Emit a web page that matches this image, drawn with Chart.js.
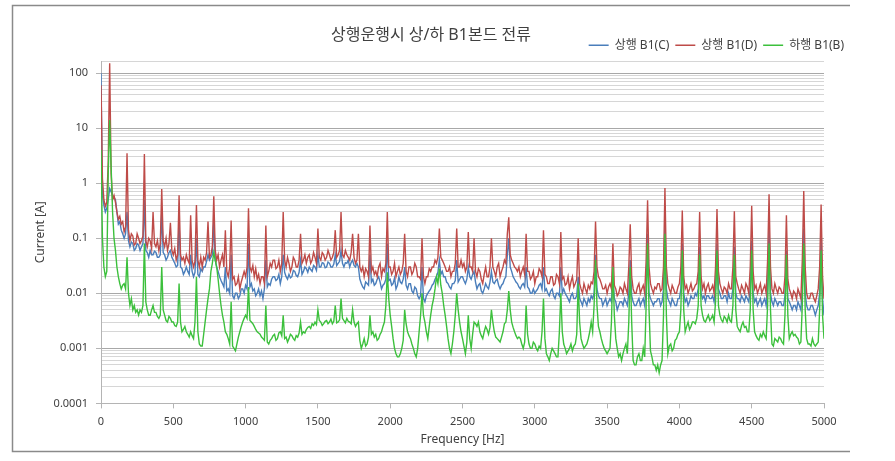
<!DOCTYPE html>
<html>
<head>
<meta charset="utf-8">
<script src="https://cdn.jsdelivr.net/npm/chart.js@4.4.1/dist/chart.umd.min.js"></script>
<style>
  html, body { margin: 0; padding: 0; background: #fff; }
</style>
</head>
<body>
<canvas id="bondCurrentChart" width="895" height="461"></canvas>
<script>
// frequency grid, 10 Hz per step (0 .. 5000 Hz)
const freqs = Array.from({ length: 501 }, (_, i) => i * 10);

const seriesNames = ['상행 B1(C)', '상행 B1(D)', '하행 B1(B)'];

// 상행 B1(C) - blue, one row per 100 Hz
const currentC = [
  100, 0.6, 0.4, 0.3, 0.35, 0.5, 0.8, 0.7, 0.6, 0.55,
  0.5, 0.3, 0.18, 0.2, 0.14, 0.12, 0.1, 0.12, 0.3, 0.09,
  0.07, 0.085, 0.08, 0.06, 0.065, 0.08, 0.075, 0.06, 0.07, 0.08,
  0.5, 0.06, 0.055, 0.045, 0.06, 0.05, 0.05, 0.058, 0.055, 0.045,
  0.045, 0.05, 0.3, 0.055, 0.05, 0.04, 0.045, 0.055, 0.06, 0.045,
  0.04, 0.035, 0.03, 0.032, 0.2, 0.03, 0.028, 0.022, 0.025, 0.03,
  0.025, 0.022, 0.05, 0.025, 0.02, 0.024, 0.1, 0.022, 0.02, 0.028,
  0.025, 0.03, 0.03, 0.038, 0.05, 0.04, 0.045, 0.05, 0.2, 0.04,
  0.03, 0.025, 0.02, 0.017, 0.015, 0.013, 0.03, 0.011, 0.012, 0.01,
  0.05, 0.009, 0.008, 0.01, 0.01, 0.008, 0.009, 0.012, 0.012, 0.01,
  0.014, 0.012, 0.08, 0.013, 0.015, 0.011, 0.012, 0.009, 0.01, 0.012,
  0.009, 0.011, 0.008, 0.012, 0.04, 0.013, 0.015, 0.014, 0.018, 0.02,
  0.02, 0.017, 0.018, 0.022, 0.015, 0.02, 0.05, 0.024, 0.02, 0.018,
  0.022, 0.019, 0.02, 0.026, 0.025, 0.021, 0.02, 0.024, 0.04, 0.022,
  0.025, 0.03, 0.028, 0.024, 0.03, 0.027, 0.025, 0.032, 0.03, 0.026,
  0.05, 0.03, 0.03, 0.036, 0.035, 0.029, 0.03, 0.037, 0.035, 0.03,
  0.03, 0.034, 0.05, 0.032, 0.035, 0.038, 0.06, 0.035, 0.03, 0.036,
  0.035, 0.04, 0.03, 0.036, 0.04, 0.032, 0.03, 0.035, 0.03, 0.018,
  0.015, 0.013, 0.012, 0.016, 0.015, 0.014, 0.05, 0.016, 0.018, 0.014,
  0.015, 0.018, 0.02, 0.016, 0.012, 0.014, 0.015, 0.018, 0.08, 0.017,
  0.018, 0.014, 0.015, 0.019, 0.012, 0.014, 0.02, 0.016, 0.015, 0.018,
  0.03, 0.014, 0.012, 0.015, 0.015, 0.011, 0.01, 0.013, 0.012, 0.009,
  0.008, 0.009, 0.03, 0.008, 0.007, 0.009, 0.01, 0.011, 0.012, 0.014,
  0.015, 0.018, 0.02, 0.024, 0.04, 0.022, 0.025, 0.02, 0.02, 0.016,
  0.015, 0.013, 0.012, 0.015, 0.015, 0.017, 0.04, 0.016, 0.018, 0.02,
  0.02, 0.017, 0.015, 0.018, 0.03, 0.02, 0.018, 0.022, 0.025, 0.016,
  0.012, 0.014, 0.015, 0.011, 0.01, 0.012, 0.015, 0.013, 0.012, 0.016,
  0.025, 0.016, 0.015, 0.017, 0.018, 0.014, 0.012, 0.014, 0.015, 0.018,
  0.02, 0.05, 0.1, 0.03, 0.025, 0.02, 0.018, 0.016, 0.015, 0.013,
  0.012, 0.014, 0.015, 0.013, 0.03, 0.013, 0.012, 0.01, 0.01, 0.012,
  0.01, 0.011, 0.012, 0.014, 0.015, 0.012, 0.03, 0.011, 0.012, 0.01,
  0.009, 0.011, 0.012, 0.009, 0.008, 0.01, 0.01, 0.009, 0.03, 0.01,
  0.012, 0.01, 0.009, 0.008, 0.007, 0.009, 0.01, 0.008, 0.008, 0.009,
  0.02, 0.008, 0.007, 0.006, 0.008, 0.007, 0.006, 0.008, 0.007, 0.009,
  0.008, 0.01, 0.05, 0.012, 0.009, 0.008, 0.008, 0.006, 0.007, 0.008,
  0.006, 0.007, 0.008, 0.007, 0.02, 0.008, 0.007, 0.005, 0.006, 0.007,
  0.007, 0.006, 0.008, 0.007, 0.006, 0.01, 0.04, 0.009, 0.007, 0.006,
  0.006, 0.007, 0.008, 0.006, 0.007, 0.008, 0.006, 0.012, 0.12, 0.01,
  0.008, 0.007, 0.006, 0.007, 0.007, 0.008, 0.008, 0.006, 0.007, 0.012,
  0.2, 0.012, 0.008, 0.007, 0.006, 0.008, 0.007, 0.006, 0.006, 0.008,
  0.008, 0.012, 0.08, 0.01, 0.007, 0.008, 0.006, 0.007, 0.009, 0.008,
  0.008, 0.01, 0.009, 0.012, 0.07, 0.01, 0.008, 0.009, 0.007, 0.009,
  0.009, 0.008, 0.008, 0.009, 0.007, 0.012, 0.08, 0.012, 0.01, 0.008,
  0.008, 0.009, 0.009, 0.007, 0.01, 0.008, 0.008, 0.012, 0.07, 0.01,
  0.008, 0.008, 0.007, 0.009, 0.008, 0.007, 0.009, 0.008, 0.007, 0.012,
  0.09, 0.01, 0.007, 0.008, 0.006, 0.007, 0.008, 0.006, 0.007, 0.008,
  0.006, 0.012, 0.15, 0.01, 0.007, 0.006, 0.008, 0.007, 0.006, 0.007,
  0.007, 0.006, 0.006, 0.009, 0.06, 0.008, 0.007, 0.006, 0.005, 0.006,
  0.006, 0.005, 0.007, 0.006, 0.005, 0.012, 0.15, 0.01, 0.006, 0.005,
  0.005, 0.006, 0.006, 0.005, 0.004, 0.005, 0.006, 0.01, 0.1, 0.008,
  0.004
];

// 상행 B1(D) - red
const currentD = [
  60, 1.2, 0.5, 0.38, 0.45, 2.5, 150, 1.5, 0.5, 0.6,
  0.45, 0.3, 0.22, 0.25, 0.18, 0.2, 0.13, 0.16, 3.5, 0.14,
  0.09, 0.12, 0.11, 0.075, 0.08, 0.12, 0.1, 0.08, 0.09, 0.11,
  3.4, 0.09, 0.07, 0.1, 0.09, 0.065, 0.3, 0.08, 0.07, 0.09,
  0.06, 0.08, 0.78, 0.09, 0.07, 0.1, 0.06, 0.08, 0.19, 0.06,
  0.05, 0.065, 0.04, 0.05, 0.6, 0.05, 0.04, 0.045, 0.035, 0.05,
  0.04, 0.035, 0.26, 0.04, 0.03, 0.038, 0.4, 0.04, 0.03, 0.045,
  0.03, 0.045, 0.04, 0.055, 0.2, 0.045, 0.05, 0.07, 0.58, 0.06,
  0.04, 0.05, 0.03, 0.04, 0.05, 0.03, 0.14, 0.025, 0.02, 0.03,
  0.21, 0.018, 0.02, 0.014, 0.015, 0.02, 0.012, 0.016, 0.02, 0.025,
  0.02, 0.03, 0.35, 0.03, 0.025, 0.032, 0.02, 0.028, 0.018, 0.022,
  0.015, 0.02, 0.02, 0.015, 0.17, 0.02, 0.025, 0.035, 0.03, 0.04,
  0.04, 0.028, 0.03, 0.04, 0.025, 0.035, 0.3, 0.04, 0.03, 0.045,
  0.035, 0.025, 0.03, 0.045, 0.04, 0.03, 0.03, 0.04, 0.12, 0.035,
  0.04, 0.05, 0.035, 0.045, 0.05, 0.035, 0.04, 0.055, 0.045, 0.035,
  0.15, 0.045, 0.04, 0.055, 0.05, 0.04, 0.045, 0.06, 0.05, 0.04,
  0.045, 0.055, 0.14, 0.045, 0.05, 0.06, 0.3, 0.05, 0.045, 0.06,
  0.05, 0.045, 0.04, 0.055, 0.12, 0.045, 0.035, 0.04, 0.12, 0.03,
  0.025, 0.03, 0.02, 0.028, 0.025, 0.02, 0.17, 0.025, 0.03, 0.022,
  0.025, 0.02, 0.03, 0.035, 0.02, 0.028, 0.025, 0.035, 0.3, 0.03,
  0.03, 0.022, 0.025, 0.035, 0.02, 0.025, 0.03, 0.022, 0.025, 0.035,
  0.12, 0.025, 0.02, 0.03, 0.03, 0.022, 0.025, 0.035, 0.03, 0.02,
  0.02, 0.018, 0.1, 0.02, 0.015, 0.02, 0.02, 0.028, 0.025, 0.03,
  0.03, 0.04, 0.035, 0.045, 0.15, 0.045, 0.04, 0.035, 0.03, 0.025,
  0.025, 0.03, 0.02, 0.025, 0.025, 0.035, 0.15, 0.03, 0.03, 0.04,
  0.03, 0.035, 0.025, 0.03, 0.13, 0.03, 0.03, 0.025, 0.1, 0.025,
  0.02, 0.028, 0.025, 0.018, 0.015, 0.022, 0.03, 0.02, 0.02, 0.03,
  0.1, 0.03, 0.025, 0.02, 0.03, 0.035, 0.02, 0.025, 0.03, 0.04,
  0.035, 0.12, 0.24, 0.05, 0.04, 0.035, 0.03, 0.028, 0.025, 0.03,
  0.02, 0.025, 0.03, 0.022, 0.12, 0.025, 0.025, 0.018, 0.02, 0.025,
  0.015, 0.02, 0.02, 0.028, 0.025, 0.02, 0.14, 0.022, 0.02, 0.015,
  0.015, 0.02, 0.02, 0.014, 0.015, 0.022, 0.02, 0.015, 0.13, 0.018,
  0.02, 0.014, 0.015, 0.02, 0.012, 0.016, 0.02, 0.013, 0.015, 0.018,
  0.1, 0.015, 0.012, 0.01, 0.015, 0.012, 0.01, 0.014, 0.012, 0.016,
  0.015, 0.025, 0.2, 0.03, 0.02, 0.018, 0.015, 0.012, 0.012, 0.014,
  0.01, 0.013, 0.015, 0.012, 0.08, 0.014, 0.012, 0.009, 0.01, 0.013,
  0.012, 0.01, 0.015, 0.012, 0.01, 0.03, 0.18, 0.02, 0.012, 0.01,
  0.01, 0.013, 0.015, 0.01, 0.012, 0.014, 0.01, 0.04, 0.49, 0.03,
  0.015, 0.012, 0.01, 0.013, 0.012, 0.015, 0.015, 0.011, 0.012, 0.03,
  0.82, 0.03, 0.015, 0.012, 0.01, 0.014, 0.012, 0.01, 0.01, 0.013,
  0.015, 0.03, 0.32, 0.02, 0.012, 0.014, 0.01, 0.012, 0.015, 0.011,
  0.012, 0.014, 0.015, 0.025, 0.3, 0.02, 0.012, 0.015, 0.01, 0.013,
  0.015, 0.011, 0.012, 0.014, 0.01, 0.03, 0.34, 0.025, 0.015, 0.012,
  0.01, 0.013, 0.012, 0.01, 0.015, 0.012, 0.012, 0.03, 0.31, 0.02,
  0.015, 0.012, 0.01, 0.014, 0.012, 0.01, 0.015, 0.013, 0.01, 0.03,
  0.39, 0.025, 0.012, 0.014, 0.01, 0.012, 0.015, 0.01, 0.012, 0.014,
  0.01, 0.04, 0.63, 0.03, 0.012, 0.01, 0.015, 0.012, 0.01, 0.013,
  0.012, 0.01, 0.01, 0.02, 0.26, 0.018, 0.012, 0.01, 0.008, 0.011,
  0.01, 0.008, 0.012, 0.01, 0.008, 0.04, 0.72, 0.03, 0.01, 0.008,
  0.008, 0.01, 0.01, 0.008, 0.007, 0.009, 0.012, 0.03, 0.41, 0.02,
  0.008
];

// 하행 B1(B) - green
const currentB = [
  4, 0.1, 0.03, 0.02, 0.025, 1.5, 14, 2, 0.3, 0.1,
  0.06, 0.03, 0.02, 0.015, 0.012, 0.014, 0.015, 0.012, 0.045, 0.01,
  0.006, 0.008, 0.005, 0.006, 0.0045, 0.005, 0.004, 0.005, 0.0045, 0.006,
  0.08, 0.007, 0.005, 0.004, 0.004, 0.005, 0.006, 0.0045, 0.0045, 0.0038,
  0.0035, 0.004, 0.03, 0.005, 0.004, 0.0032, 0.003, 0.0038, 0.0035, 0.003,
  0.003, 0.0026, 0.0025, 0.003, 0.015, 0.003, 0.002, 0.0022, 0.0025, 0.002,
  0.0018, 0.0016, 0.002, 0.0017, 0.0015, 0.003, 0.02, 0.002, 0.0012, 0.0011,
  0.0011, 0.0018, 0.003, 0.005, 0.008, 0.012, 0.025, 0.035, 0.055, 0.04,
  0.03, 0.018, 0.01, 0.006, 0.004, 0.003, 0.002, 0.0018, 0.0015, 0.0012,
  0.007, 0.0011, 0.001, 0.0009, 0.0012, 0.0016, 0.002, 0.0025, 0.003, 0.0035,
  0.004, 0.0035, 0.013, 0.0032, 0.003, 0.0028, 0.0025, 0.0022, 0.002, 0.0019,
  0.0018, 0.0016, 0.0015, 0.0014, 0.006, 0.0013, 0.0012, 0.0014, 0.0015, 0.0017,
  0.0018, 0.0014, 0.0015, 0.0019, 0.002, 0.0017, 0.004, 0.0015, 0.0016, 0.0013,
  0.0015, 0.0018, 0.0017, 0.0015, 0.0014, 0.0017, 0.0016, 0.0019, 0.003, 0.0018,
  0.002, 0.0019, 0.0022, 0.0024, 0.0025, 0.0023, 0.0028, 0.0026, 0.003, 0.0027,
  0.005, 0.0032, 0.003, 0.0026, 0.0028, 0.0031, 0.0032, 0.0028, 0.003, 0.0034,
  0.0028, 0.0031, 0.006, 0.0029, 0.003, 0.0033, 0.008, 0.0035, 0.0032, 0.0029,
  0.0035, 0.0031, 0.003, 0.0028, 0.005, 0.003, 0.0025, 0.0028, 0.003, 0.0014,
  0.001, 0.0012, 0.0015, 0.0011, 0.0012, 0.0016, 0.004, 0.0018, 0.002, 0.0016,
  0.0018, 0.0014, 0.0015, 0.0018, 0.002, 0.0025, 0.003, 0.006, 0.024, 0.008,
  0.004, 0.0025, 0.0015, 0.001, 0.0008, 0.0007, 0.0007, 0.0008, 0.001, 0.0014,
  0.005, 0.0028, 0.002, 0.0017, 0.0015, 0.0012, 0.001, 0.0008, 0.0007, 0.001,
  0.002, 0.004, 0.01, 0.004, 0.003, 0.002, 0.0015, 0.0025, 0.004, 0.006,
  0.008, 0.012, 0.02, 0.015, 0.028, 0.014, 0.01, 0.006, 0.004, 0.0025,
  0.0015, 0.001, 0.0008, 0.0012, 0.002, 0.004, 0.01, 0.005, 0.003, 0.002,
  0.0015, 0.0011, 0.0008, 0.0013, 0.004, 0.0015, 0.001, 0.0018, 0.003, 0.0028,
  0.0025, 0.003, 0.002, 0.0017, 0.0015, 0.002, 0.0025, 0.0022, 0.0018, 0.0024,
  0.005, 0.003, 0.002, 0.0016, 0.0015, 0.0014, 0.0013, 0.0016, 0.002, 0.0028,
  0.003, 0.005, 0.011, 0.005, 0.003, 0.0024, 0.002, 0.0017, 0.0015, 0.0016,
  0.0015, 0.0012, 0.001, 0.0013, 0.006, 0.0018, 0.0012, 0.001, 0.001, 0.0013,
  0.0012, 0.001, 0.0009, 0.0011, 0.001, 0.002, 0.008, 0.0015, 0.0008, 0.0007,
  0.0006, 0.0008, 0.001, 0.0009, 0.0008, 0.0007, 0.0007, 0.002, 0.01, 0.002,
  0.0012, 0.001, 0.0008, 0.0009, 0.001, 0.0012, 0.0009, 0.0011, 0.0012, 0.0018,
  0.015, 0.003, 0.0015, 0.0012, 0.001, 0.0011, 0.0012, 0.0015, 0.002, 0.003,
  0.002, 0.006, 0.04, 0.006, 0.0025, 0.002, 0.0015, 0.0012, 0.001, 0.0009,
  0.0008, 0.0009, 0.001, 0.003, 0.03, 0.004, 0.0015, 0.001, 0.0007, 0.0008,
  0.0006, 0.0008, 0.001, 0.0012, 0.0008, 0.003, 0.03, 0.003, 0.0006, 0.0005,
  0.0005, 0.0007, 0.0008, 0.0006, 0.0006, 0.001, 0.0007, 0.006, 0.08, 0.005,
  0.0009, 0.0007, 0.0005, 0.0005, 0.0004, 0.0005, 0.00036, 0.0005, 0.0006, 0.004,
  0.12, 0.004, 0.0008, 0.0011, 0.0012, 0.0009, 0.001, 0.0014, 0.0015, 0.0018,
  0.002, 0.005, 0.06, 0.005, 0.002, 0.0025, 0.003, 0.0022, 0.0025, 0.003,
  0.003, 0.0028, 0.0035, 0.006, 0.05, 0.006, 0.004, 0.0032, 0.003, 0.0035,
  0.004, 0.0032, 0.0035, 0.004, 0.003, 0.007, 0.06, 0.006, 0.004, 0.0033,
  0.003, 0.0038, 0.0035, 0.003, 0.004, 0.0032, 0.003, 0.006, 0.05, 0.005,
  0.0025, 0.0022, 0.002, 0.0026, 0.003, 0.0024, 0.0025, 0.002, 0.002, 0.005,
  0.06, 0.005, 0.002, 0.0017, 0.0015, 0.0014, 0.0018, 0.0016, 0.002, 0.0017,
  0.0015, 0.006, 0.08, 0.005, 0.0012, 0.0011, 0.0015, 0.0014, 0.0013, 0.0016,
  0.0015, 0.0013, 0.0012, 0.004, 0.05, 0.004, 0.0015, 0.0018, 0.002, 0.0017,
  0.0018, 0.0016, 0.0015, 0.0012, 0.0013, 0.006, 0.08, 0.005, 0.0015, 0.0012,
  0.0012, 0.0011, 0.0015, 0.0012, 0.0011, 0.0012, 0.0013, 0.005, 0.06, 0.004,
  0.0015
];

// y axis: labelled decades
const yMajor = [0.0001, 0.001, 0.01, 0.1, 1, 10, 100];
const yTickLabels = ['0.0001', '0.001', '0.01', '0.1', '1', '10', '100'];
const yMax = 164;

function majorIndex(v) {
    return yMajor.findIndex(m => Math.abs(v / m - 1) < 1e-6);
}

// outer frame like the pasted Excel chart (open on the right)
const framePlugin = {
    id: 'frame',
    beforeDraw(chart) {
        const ctx = chart.ctx;
        ctx.save();
        ctx.fillStyle = '#ffffff';
        ctx.fillRect(0, 0, chart.width, chart.height);
        ctx.strokeStyle = '#8a8a8a';
        ctx.lineWidth = 1.5;
        ctx.beginPath();
        ctx.moveTo(850, 5.5);
        ctx.lineTo(12.5, 5.5);
        ctx.lineTo(12.5, 451.5);
        ctx.lineTo(850, 451.5);
        ctx.stroke();
        ctx.restore();
    }
};

const fontFamily = "'Noto Sans', 'Noto Sans CJK KR', sans-serif";

new Chart(document.getElementById('bondCurrentChart'), {
    type: 'line',
    data: {
        labels: freqs,
        datasets: [
            { label: seriesNames[0], data: currentC, borderColor: '#4a7ebb', backgroundColor: '#4a7ebb', order: 3 },
            { label: seriesNames[1], data: currentD, borderColor: '#be4b48', backgroundColor: '#be4b48', order: 2 },
            { label: seriesNames[2], data: currentB, borderColor: '#3cc03c', backgroundColor: '#3cc03c', order: 1 }
        ].map(ds => Object.assign(ds, { borderWidth: 1.4, pointRadius: 0, tension: 0, fill: false }))
    },
    options: {
        responsive: false,
        devicePixelRatio: 1,
        animation: false,
        layout: {
            padding: { left: 12, right: 45, top: 0, bottom: 10 }
        },
        plugins: {
            title: {
                display: true,
                text: '상행운행시 상/하 B1본드 전류',
                color: '#404040',
                font: { family: fontFamily, size: 16, weight: 'normal' },
                padding: { top: 26, bottom: -12 }
            },
            legend: {
                position: 'top',
                align: 'end',
                labels: {
                    color: '#404040',
                    font: { family: fontFamily, size: 12 },
                    usePointStyle: true,
                    pointStyle: 'line',
                    pointStyleWidth: 20,
                    padding: 6,
                    sort: (a, b) => a.datasetIndex - b.datasetIndex
                }
            },
            tooltip: { enabled: false }
        },
        scales: {
            x: {
                type: 'linear',
                min: 0,
                max: 5000,
                ticks: {
                    stepSize: 500,
                    maxRotation: 0,
                    padding: 7,
                    color: '#404040',
                    font: { family: fontFamily, size: 11 },
                    callback: (v) => String(v)
                },
                grid: {
                    drawOnChartArea: false,
                    drawTicks: true,
                    tickLength: 5,
                    tickColor: '#b4b4b4'
                },
                border: { color: '#b4b4b4', width: 1 },
                title: {
                    display: true,
                    text: 'Frequency [Hz]',
                    color: '#404040',
                    font: { family: fontFamily, size: 12 },
                    padding: { top: -3, bottom: 4 }
                },
                afterFit(scale) {
                    scale.paddingRight = 71;
                }
            },
            y: {
                type: 'logarithmic',
                min: 0.0001,
                max: yMax,
                afterBuildTicks(scale) {
                    const vals = [];
                    for (let d = 0; d < yMajor.length; d++) {
                        vals.push(yMajor[d]);
                        if (d < yMajor.length - 1) {
                            for (let m = 2; m <= 9; m++) vals.push(m * yMajor[d]);
                        }
                    }
                    vals.push(yMax);
                    scale.ticks = vals.map(v => ({ value: v }));
                },
                ticks: {
                    autoSkip: false,
                    padding: 8,
                    color: '#404040',
                    font: { family: fontFamily, size: 11 },
                    callback: (v) => {
                        const i = majorIndex(v);
                        return i >= 0 ? yTickLabels[i] : '';
                    }
                },
                grid: {
                    tickLength: 5,
                    color: (ctx) => (ctx.tick && majorIndex(ctx.tick.value) >= 0) ? '#a8a8a8' : '#d6d6d6',
                    tickColor: (ctx) => (ctx.tick && majorIndex(ctx.tick.value) >= 0) ? '#b4b4b4' : 'rgba(0,0,0,0)'
                },
                border: { color: '#b4b4b4', width: 1 },
                title: {
                    display: true,
                    text: 'Current [A]',
                    color: '#404040',
                    font: { family: fontFamily, size: 12 },
                    padding: { top: 21, bottom: 0 }
                },
                afterFit(scale) {
                    scale.width = 89;
                }
            }
        }
    },
    plugins: [framePlugin]
});
</script>
</body>
</html>
